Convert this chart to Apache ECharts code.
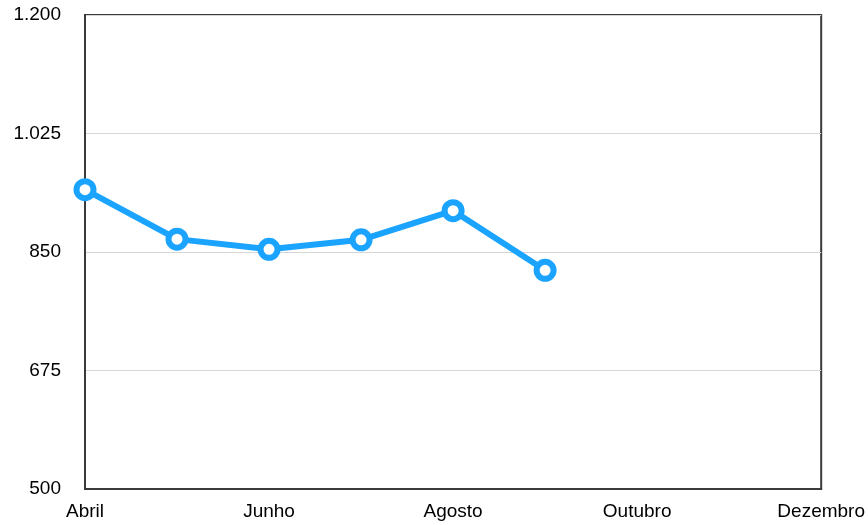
<!DOCTYPE html>
<html>
<head>
<meta charset="utf-8">
<script src="https://cdn.jsdelivr.net/npm/echarts@6/dist/echarts.min.js"></script>
<style>html,body{margin:0;padding:0;background:#fff;}#c{width:868px;height:525px;}</style>
</head>
<body>
<div id="c"></div>
<script>
var categories = ['Abril','Maio','Junho','Julho','Agosto','Setembro','Outubro','Novembro','Dezembro'];
var values = [942, 869, 854, 868, 911, 823, null, null, null];
var yMin = 500, yMax = 1200, yStep = 175;

var chart = echarts.init(document.getElementById('c'), null, {renderer:'canvas'});
chart.setOption({
  animation: false,
  backgroundColor: '#fff',
  grid: {left: 85, right: 46, top: 15, bottom: 36, show: true, borderColor: '#3a3a3a', borderWidth: 2, backgroundColor: 'transparent'},
  xAxis: {
    type: 'category', data: categories, boundaryGap: false,
    axisLine: {show: true, lineStyle: {color: '#3a3a3a', width: 2}},
    axisTick: {show: false},
    splitLine: {show: false},
    axisLabel: {interval: 1, color: '#000', fontFamily: 'Liberation Sans, Arial, sans-serif', fontSize: 19, margin: 13}
  },
  yAxis: {
    type: 'value', min: yMin, max: yMax, interval: yStep,
    axisLine: {show: true, lineStyle: {color: '#3a3a3a', width: 2}},
    axisTick: {show: false},
    splitLine: {show: true, lineStyle: {color: '#d6d6d6', width: 1}},
    axisLabel: {color: '#000', fontFamily: 'Liberation Sans, Arial, sans-serif', fontSize: 19, margin: 24,
      formatter: function(v){ return String(v).replace(/\B(?=(\d{3})+(?!\d))/g, '.'); }}
  },
  series: [{
    type: 'line', data: values, connectNulls: false,
    lineStyle: {color: '#1aa3ff', width: 6},
    symbol: 'circle', symbolSize: 17,
    itemStyle: {color: '#fff', borderColor: '#1aa3ff', borderWidth: 6},
    z: 5
  }]
});
</script>
</body>
</html>
